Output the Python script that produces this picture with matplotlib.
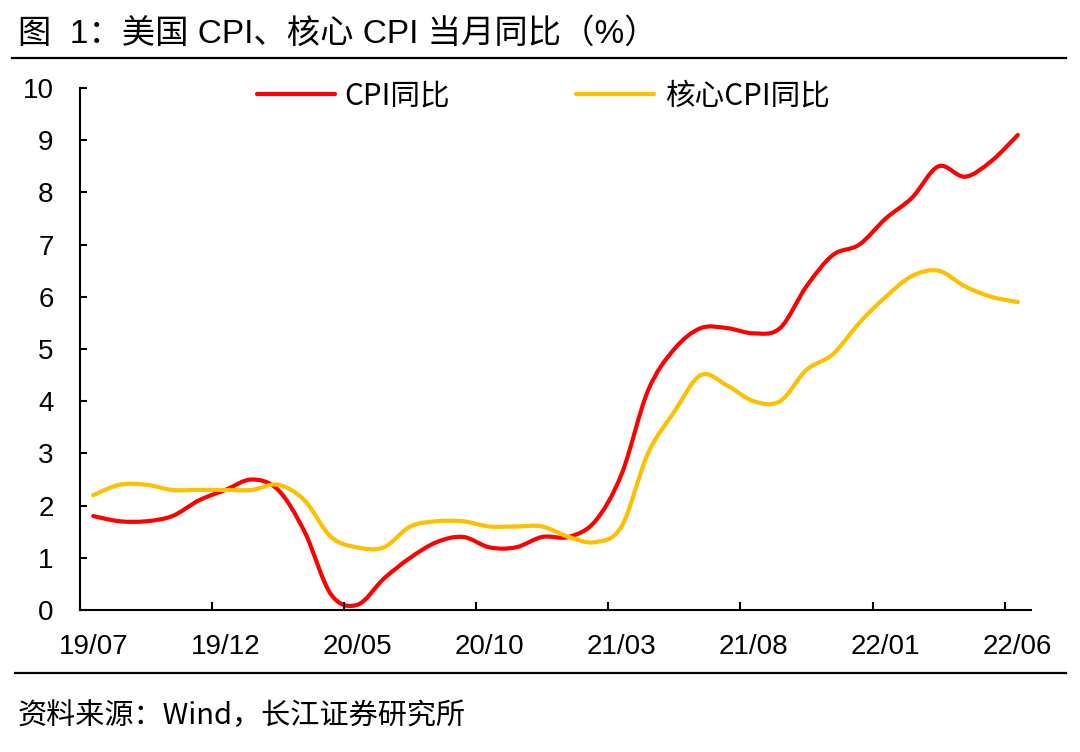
import matplotlib
matplotlib.use("Agg")
import matplotlib.pyplot as plt
from matplotlib.path import Path
from matplotlib.patches import PathPatch
from matplotlib.lines import Line2D
from matplotlib.ticker import FixedLocator
import numpy as np

FONT = ['Liberation Sans', 'Noto Sans CJK SC', 'DejaVu Sans']
CJK = ['Noto Sans CJK SC', 'DejaVu Sans']
plt.rcParams['font.family'] = FONT

months = ['19/07', '19/08', '19/09', '19/10', '19/11', '19/12',
          '20/01', '20/02', '20/03', '20/04', '20/05', '20/06',
          '20/07', '20/08', '20/09', '20/10', '20/11', '20/12',
          '21/01', '21/02', '21/03', '21/04', '21/05', '21/06',
          '21/07', '21/08', '21/09', '21/10', '21/11', '21/12',
          '22/01', '22/02', '22/03', '22/04', '22/05', '22/06']
cpi = [1.8, 1.7, 1.7, 1.8, 2.1, 2.3,
       2.5, 2.3, 1.5, 0.3, 0.1, 0.6,
       1.0, 1.3, 1.4, 1.2, 1.2, 1.4,
       1.4, 1.7, 2.6, 4.2, 5.0, 5.4,
       5.4, 5.3, 5.4, 6.2, 6.8, 7.0,
       7.5, 7.9, 8.5, 8.3, 8.6, 9.1]
core = [2.2, 2.4, 2.4, 2.3, 2.3, 2.3,
        2.3, 2.4, 2.1, 1.4, 1.2, 1.2,
        1.6, 1.7, 1.7, 1.6, 1.6, 1.6,
        1.4, 1.3, 1.6, 3.0, 3.8, 4.5,
        4.3, 4.0, 4.0, 4.6, 4.9, 5.5,
        6.0, 6.4, 6.5, 6.2, 6.0, 5.9]
series_names = ['CPI同比', '核心CPI同比']
colors = ['#FF0000', '#FFC000']
yticks = list(range(0, 11))
title = '图  1：美国 CPI、核心 CPI 当月同比（%）'
source = '资料来源：Wind，长江证券研究所'


def smooth_path(x, y):
    n = len(x)
    verts = [(x[0], y[0])]
    codes = [Path.MOVETO]
    for i in range(n - 1):
        p0 = i - 1 if i > 0 else i
        p3 = i + 2 if i + 2 < n else i + 1
        c1 = (x[i] + (x[i + 1] - x[p0]) / 6.0, y[i] + (y[i + 1] - y[p0]) / 6.0)
        c2 = (x[i + 1] - (x[p3] - x[i]) / 6.0, y[i + 1] - (y[p3] - y[i]) / 6.0)
        verts += [c1, c2, (x[i + 1], y[i + 1])]
        codes += [Path.CURVE4] * 3
    return Path(verts, codes)


fig = plt.figure(figsize=(10.8, 7.52), dpi=100)
ax = fig.add_axes([80 / 1080, 1 - 610 / 752, 951 / 1080, (610 - 88) / 752])

xs = np.arange(len(months))
for vals, col in zip([cpi, core], colors):
    p = smooth_path(xs, vals)
    ax.add_patch(PathPatch(p, fill=False, edgecolor=col, lw=3.0,
                           capstyle='round', joinstyle='round', clip_on=False))

ax.set_xlim(-0.5, len(months) - 0.5)
ax.set_ylim(0, 10)
ax.spines['top'].set_visible(False)
ax.spines['right'].set_visible(False)
for s in ['left', 'bottom']:
    ax.spines[s].set_linewidth(1.5)

ax.set_yticks(yticks)
ax.set_yticklabels([str(v) for v in yticks])
ax.tick_params(axis='y', direction='in', length=5, width=1.5, pad=19,
               labelsize=20)

major = xs[::5]
ax.set_xticks(major)
ax.set_xticklabels([months[i] for i in major])
ax.xaxis.set_minor_locator(FixedLocator(list(major - 0.5)))
ax.tick_params(axis='x', which='major', length=0, pad=17, labelsize=20)
ax.tick_params(axis='x', which='minor', direction='in', length=5.5, width=1.5)

handles = [Line2D([], [], color=c, lw=3.0, solid_capstyle='round') for c in colors]
leg = ax.legend(handles, series_names, loc='center', ncol=2,
                bbox_to_anchor=(543 / 1080, 1 - 96 / 752),
                bbox_transform=fig.transFigure, frameon=False,
                prop={'family': CJK, 'size': 21.3},
                handlelength=2.64, handletextpad=0.34, columnspacing=4.26)

fig.text(18 / 1080, 1 - 34 / 752, title, fontsize=24, va='center', ha='left',
         family=FONT)
fig.add_artist(Line2D([12 / 1080, 1066 / 1080], [1 - 58 / 752, 1 - 58 / 752],
                      color='black', lw=1.6, transform=fig.transFigure))
fig.add_artist(Line2D([15 / 1080, 1066 / 1080], [1 - 673 / 752, 1 - 673 / 752],
                      color='black', lw=1.6, transform=fig.transFigure))
fig.text(18 / 1080, 1 - 716 / 752, source, fontsize=21, va='center', ha='left',
         family=CJK)

fig.savefig('out.png', dpi=100)
